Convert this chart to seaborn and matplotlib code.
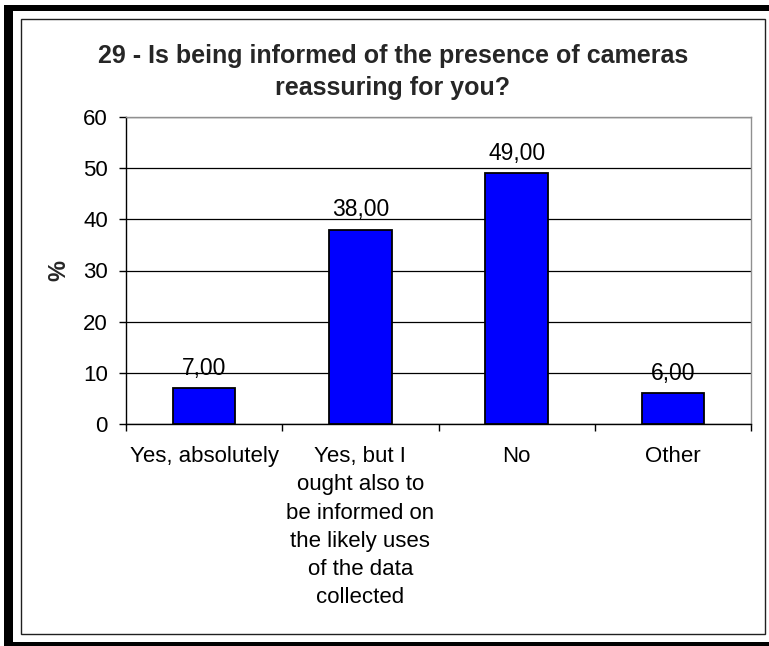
import matplotlib
matplotlib.use("Agg")
import matplotlib.pyplot as plt
from matplotlib.patches import Rectangle
import pandas as pd
import seaborn as sns

# Chart data
categories = [
    "Yes, absolutely",
    "Yes, but I\nought also to\nbe informed on\nthe likely uses\nof the data\ncollected",
    "No",
    "Other",
]
percentages = [7.0, 38.0, 49.0, 6.0]
y_ticks = [0, 10, 20, 30, 40, 50, 60]
title = "29 - Is being informed of the presence of cameras\nreassuring for you?"

W, H = 769, 646

sns.set_theme(style="white")
plt.rcParams["font.family"] = ["Liberation Sans", "DejaVu Sans"]


def fx(x):
    return x / W


def fy(y):
    return 1 - y / H


def px_rect(x0, y0, x1, y1, **kw):
    # rectangle given in pixel coords (y down) -> figure fraction
    return Rectangle((fx(x0), fy(y1)), fx(x1) - fx(x0), fy(y0) - fy(y1),
                     transform=fig.transFigure, **kw)


df = pd.DataFrame({"answer": categories, "pct": percentages})

fig = plt.figure(figsize=(W / 100, H / 100), dpi=100)
fig.patch.set_facecolor("white")

# black frame (left, top, bottom) and thin inner border
fig.add_artist(px_rect(4, 5, 13, 646, facecolor="black", edgecolor="none"))
fig.add_artist(px_rect(4, 5, W, 11, facecolor="black", edgecolor="none"))
fig.add_artist(px_rect(4, 642, W, 646, facecolor="black", edgecolor="none"))
fig.add_artist(px_rect(21, 19, 765, 634, facecolor="none", edgecolor="#202020", lw=1))

ax = fig.add_axes([fx(126), fy(424), fx(751) - fx(126), fy(117) - fy(424)])
sns.barplot(data=df, x="answer", y="pct", color="#0000FF", saturation=1,
            width=0.4, edgecolor="black", linewidth=1.3, ax=ax, zorder=3)

ax.set_xlim(-0.5, len(categories) - 0.5)
ax.set_ylim(0, 60)
ax.set_yticks(y_ticks)
ax.yaxis.grid(True, color="black", lw=0.9)
ax.set_axisbelow(True)

# boundary ticks between categories, labels on minor ticks
ax.set_xticks([i - 0.5 for i in range(len(categories) + 1)])
ax.set_xticklabels([""] * (len(categories) + 1))
ax.set_xticks(range(len(categories)), minor=True)
ax.set_xticklabels(categories, minor=True, linespacing=1.45)
ax.tick_params(axis="x", which="major", direction="out", length=5, width=1, color="black", bottom=True)
ax.tick_params(axis="x", which="minor", length=0, pad=16, labelsize=16, colors="black")
ax.tick_params(axis="y", direction="out", length=5, width=1, color="black", left=True, pad=8,
               labelsize=16, labelcolor="black")

for side in ["left", "bottom"]:
    ax.spines[side].set_color("black")
    ax.spines[side].set_linewidth(1)
for side in ["top", "right"]:
    ax.spines[side].set_color("#909090")
    ax.spines[side].set_linewidth(1)

ax.set_xlabel("")
ax.set_ylabel("%", fontsize=17, fontweight="bold", labelpad=9)

for i, v in enumerate(percentages):
    ax.annotate(f"{v:.2f}".replace(".", ","), (i, v), xytext=(0, 9.5), textcoords="offset points",
                ha="center", va="baseline", fontsize=16.5, color="black")

fig.text(fx(393), fy(72), title, ha="center", va="center", fontsize=18, fontweight="bold",
         linespacing=1.45)

fig.savefig("out.png", dpi=100)
